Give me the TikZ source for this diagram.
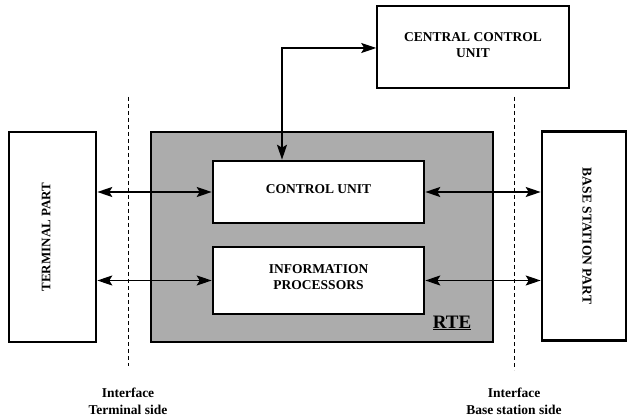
\documentclass[tikz,border=0pt]{standalone}
\usepackage{fontspec}
\setmainfont{Liberation Serif}
\usetikzlibrary{arrows.meta}
\definecolor{rtegray}{RGB}{172,172,172}
\tikzset{
  x=1pt, y=-1pt,
  boxtext/.style={font=\fontsize{13.5}{15.5}\selectfont\bfseries, align=center},
  thickbox/.style={draw, line width=2.6pt, fill=white},
  thinbox/.style={draw, line width=1.5pt, fill=white},
  tip/.style={Stealth[length=15pt,width=10pt,inset=3pt]},
  link/.style={line width=1.7pt, {Stealth[length=15pt,width=10pt,inset=3pt]}-{Stealth[length=15pt,width=10pt,inset=3pt]}},
  iface/.style={line width=1pt, dash pattern=on 4pt off 3pt},
  ilabel/.style={font=\fontsize{13.5}{17}\selectfont\bfseries, align=center}
}
\begin{document}
\begin{tikzpicture}
\useasboundingbox (0,0) rectangle (628,419);
% RTE gray area
\node[draw, line width=1.2pt, fill=rtegray, minimum width=342pt, minimum height=210pt, inner sep=0pt] (rte) at (322,237) {};
\node[font=\fontsize{19}{21}\selectfont\bfseries] (rtelbl) at (452,323) {\underline{RTE}};
% boxes
\node[thinbox, minimum width=192pt, minimum height=82pt, inner sep=0pt] (ccu) at (473,47) {};
\node[boxtext] (ccut) at (473,45) {CENTRAL CONTROL\\UNIT};
\node[thickbox, minimum width=211pt, minimum height=62pt, inner sep=0pt] (cu) at (318.5,192) {};
\node[boxtext] (cut) at (318.5,189) {CONTROL UNIT};
\node[thickbox, minimum width=211pt, minimum height=67pt, inner sep=0pt] (ip) at (318.5,280.5) {};
\node[boxtext] (ipt) at (318.5,277) {INFORMATION\\PROCESSORS};
\node[thickbox, minimum width=87pt, minimum height=210pt, inner sep=0pt] (tp) at (52.5,237) {};
\node[boxtext, font=\fontsize{13}{15}\selectfont\bfseries, rotate=90] (tpt) at (46,237) {TERMINAL PART};
\node[thickbox, minimum width=84pt, minimum height=209pt, inner sep=0pt] (bs) at (584,236) {};
\node[boxtext, rotate=-90] (bst) at (587,236) {BASE STATION PART};
% interface lines
\coordinate (lt) at (128,97);
\coordinate (lb) at (128,366);
\coordinate (rt) at (514,97);
\coordinate (rb) at (514,370);
\draw[iface] (lt) -- (lb);
\draw[iface] (rt) -- (rb);
\node[ilabel] (il) at (128,401) {Interface\\Terminal side};
\node[ilabel] (ir) at (514,401) {Interface\\Base station side};
% connectors
\coordinate (bend) at (282,48);
\draw[link] (cu.north -| bend) -- (bend) -- (bend -| ccu.west);
\draw[link] (tp.east |- cu.west) -- (cu.west);
\draw[link] (tp.east |- ip.west) -- (ip.west);
\draw[link] (cu.east) -- (cu.east -| bs.west);
\draw[link] (ip.east) -- (ip.east -| bs.west);
\end{tikzpicture}
\end{document}
